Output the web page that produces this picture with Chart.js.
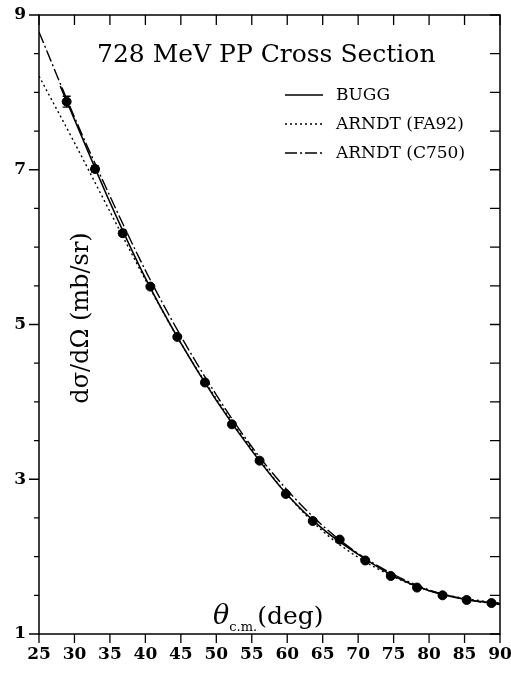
<!DOCTYPE html>
<html>
<head>
<meta charset="utf-8">
<script src="https://cdn.jsdelivr.net/npm/chart.js@4.4.1/dist/chart.umd.min.js"></script>
<style>
  body { margin: 0; background: #fff; }
  #wrap { width: 511px; height: 673px; }
</style>
</head>
<body>
<div id="wrap"><canvas id="grafico" width="511" height="673"></canvas></div>
<script>
// datos
const angulosDatos = [28.9, 32.9, 36.8, 40.7, 44.5, 48.4, 52.2, 56.1, 59.8, 63.6, 67.4, 71.0, 74.6, 78.3, 81.9, 85.3, 88.8];
const seccionDatos = [7.88, 7.01, 6.18, 5.49, 4.84, 4.25, 3.71, 3.24, 2.81, 2.46, 2.22, 1.95, 1.75, 1.60, 1.50, 1.44, 1.40];
const errorDatos = [0.07, 0.04, 0.03, 0.02, 0.02, 0.02, 0.02, 0.02, 0.02, 0.02, 0.02, 0.02, 0.02, 0.02, 0.02, 0.02, 0.02];

const angulosBugg = [28, 30, 35, 40, 45, 50, 55, 60, 65, 70, 75, 80, 85, 90];
const valoresBugg = [8.08, 7.65, 6.58, 5.60, 4.76, 4.02, 3.37, 2.80, 2.36, 2.03, 1.75, 1.56, 1.45, 1.39];

const angulosArndt = [25, 30, 35, 40, 45, 50, 55, 60, 65, 70, 75, 80, 85, 90];
const valoresFA92 = [8.21, 7.35, 6.46, 5.58, 4.76, 4.04, 3.39, 2.80, 2.33, 1.99, 1.74, 1.56, 1.46, 1.40];
const valoresC750 = [8.78, 7.68, 6.66, 5.70, 4.85, 4.09, 3.42, 2.86, 2.40, 2.04, 1.77, 1.57, 1.45, 1.38];

const etiquetasY = [1, 3, 5, 7, 9];
const leyenda = ['BUGG', 'ARNDT (FA92)', 'ARNDT (C750)'];

function puntos(xs, ys) {
    return xs.map(function(x, i) { return { x: x, y: ys[i] }; });
}

const fuente = 'DejaVu Serif';

// marcas, errores, titulo y leyenda
const extras = {
    id: 'extras',
    afterDatasetsDraw: function(chart) {
        const ctx = chart.ctx;
        const area = chart.chartArea;
        const sx = chart.scales.x;
        const sy = chart.scales.y;
        ctx.save();
        ctx.strokeStyle = '#000';
        ctx.fillStyle = '#000';

        // barras de error
        ctx.lineWidth = 1.3;
        angulosDatos.forEach(function(a, i) {
            const px = sx.getPixelForValue(a);
            const y1 = sy.getPixelForValue(seccionDatos[i] + errorDatos[i]);
            const y2 = sy.getPixelForValue(seccionDatos[i] - errorDatos[i]);
            ctx.beginPath();
            ctx.moveTo(px, y1); ctx.lineTo(px, y2);
            ctx.moveTo(px - 4, y1); ctx.lineTo(px + 4, y1);
            ctx.moveTo(px - 4, y2); ctx.lineTo(px + 4, y2);
            ctx.stroke();
        });

        // marco
        ctx.lineWidth = 1.5;
        ctx.strokeRect(area.left, area.top, area.right - area.left, area.bottom - area.top);

        // marcas de ejes
        ctx.lineWidth = 1.3;
        ctx.beginPath();
        sx.ticks.forEach(function(t) {
            const px = sx.getPixelForValue(t.value);
            ctx.moveTo(px, area.bottom); ctx.lineTo(px, area.bottom + 9);
            ctx.moveTo(px, area.top); ctx.lineTo(px, area.top + 10);
        });
        sy.ticks.forEach(function(t) {
            const py = sy.getPixelForValue(t.value);
            const mayor = etiquetasY.indexOf(t.value) >= 0;
            ctx.moveTo(area.left, py); ctx.lineTo(area.left - (mayor ? 10 : 5), py);
            ctx.moveTo(area.right, py); ctx.lineTo(area.right - 10, py);
        });
        ctx.stroke();

        // titulo
        ctx.font = '25px "' + fuente + '"';
        ctx.textAlign = 'left';
        ctx.textBaseline = 'middle';
        ctx.fillText('728 MeV PP Cross Section', 97, 55);

        // leyenda
        const estilos = [[], [2, 3], [12, 3, 2, 3]];
        ctx.font = '17px "' + fuente + '"';
        leyenda.forEach(function(texto, i) {
            const y = 95 + i * 29;
            ctx.setLineDash(estilos[i]);
            ctx.lineWidth = 1.3;
            ctx.beginPath();
            ctx.moveTo(285, y); ctx.lineTo(323, y);
            ctx.stroke();
            ctx.setLineDash([]);
            ctx.fillText(texto, 336, y + 1);
        });

        // titulo eje y
        ctx.save();
        ctx.translate(82, 318);
        ctx.rotate(-Math.PI / 2);
        ctx.textAlign = 'center';
        ctx.font = '24px "' + fuente + '"';
        ctx.fillText('d\u03c3/d\u03a9 (mb/sr)', 0, 0);
        ctx.restore();

        // titulo eje x
        ctx.textBaseline = 'alphabetic';
        ctx.textAlign = 'left';
        let x = 213;
        ctx.font = 'italic 27px "' + fuente + '"';
        ctx.fillText('\u03b8', x, 624);
        x += ctx.measureText('\u03b8').width;
        ctx.font = '13px "' + fuente + '"';
        ctx.fillText('c.m.', x, 631);
        x += ctx.measureText('c.m.').width;
        ctx.font = '25px "' + fuente + '"';
        ctx.fillText('(deg)', x, 624);

        ctx.restore();
    }
};

const ctx = document.getElementById('grafico').getContext('2d');
new Chart(ctx, {
    type: 'scatter',
    data: {
        datasets: [{
            label: 'Datos',
            data: puntos(angulosDatos, seccionDatos),
            backgroundColor: '#000',
            borderColor: '#000',
            pointRadius: 4.5,
            showLine: false
        }, {
            label: leyenda[0],
            data: puntos(angulosBugg, valoresBugg),
            borderColor: '#000',
            borderWidth: 1.6,
            pointRadius: 0,
            showLine: true,
            cubicInterpolationMode: 'monotone'
        }, {
            label: leyenda[1],
            data: puntos(angulosArndt, valoresFA92),
            borderColor: '#000',
            borderWidth: 1.4,
            borderDash: [2, 3],
            pointRadius: 0,
            showLine: true,
            cubicInterpolationMode: 'monotone'
        }, {
            label: leyenda[2],
            data: puntos(angulosArndt, valoresC750),
            borderColor: '#000',
            borderWidth: 1.4,
            borderDash: [12, 3, 2, 3],
            pointRadius: 0,
            showLine: true,
            cubicInterpolationMode: 'monotone'
        }]
    },
    options: {
        responsive: false,
        animation: false,
        layout: { padding: { top: 15, right: 11, left: 0, bottom: 0 } },
        plugins: {
            legend: { display: false },
            tooltip: { enabled: false }
        },
        scales: {
            x: {
                type: 'linear',
                min: 25,
                max: 90,
                afterFit: function(scale) {
                    scale.height = 39;
                    scale.paddingLeft = 0;
                    scale.paddingRight = 0;
                },
                ticks: {
                    stepSize: 5,
                    color: '#000',
                    padding: 10,
                    font: { family: fuente, size: 17, weight: 'bold' }
                },
                grid: { display: false, drawTicks: false },
                border: { display: false }
            },
            y: {
                min: 1,
                max: 9,
                afterFit: function(scale) {
                    scale.width = 39;
                    scale.paddingTop = 0;
                    scale.paddingBottom = 0;
                },
                ticks: {
                    stepSize: 0.5,
                    color: '#000',
                    padding: 13,
                    font: { family: fuente, size: 17, weight: 'bold' },
                    callback: function(v) { return etiquetasY.indexOf(v) >= 0 ? String(v) : ''; }
                },
                grid: { display: false, drawTicks: false },
                border: { display: false }
            }
        }
    },
    plugins: [extras]
});
</script>
</body>
</html>
